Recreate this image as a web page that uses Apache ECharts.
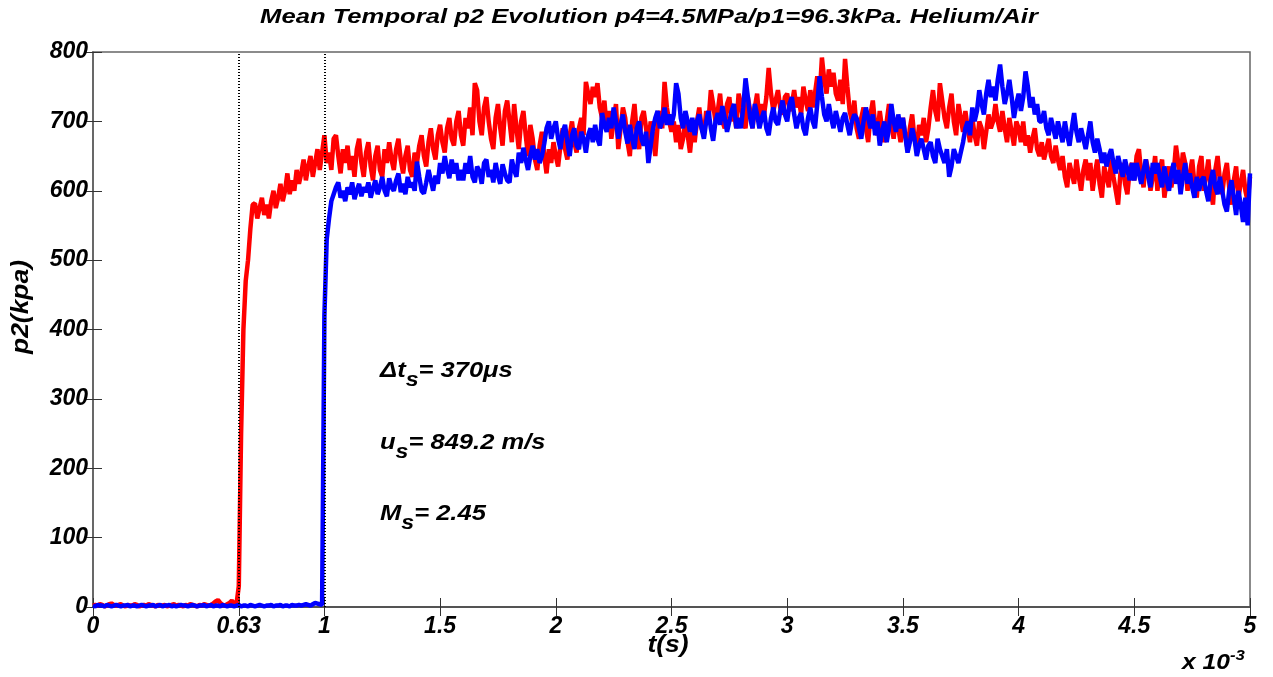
<!DOCTYPE html>
<html>
<head>
<meta charset="utf-8">
<script src="https://cdn.jsdelivr.net/npm/echarts@6/dist/echarts.min.js"></script>
<style>
html,body{margin:0;padding:0;background:#fff;}
#c{width:1273px;height:677px;}
</style>
</head>
<body>
<div id="c"></div>
<script>
// Sampling step of the traces (in ms, shown as x 10^-3 s)
const stepMs = 0.01;
// x-axis tick labels (ms)
const xTicks = [0, 0.63, 1, 1.5, 2, 2.5, 3, 3.5, 4, 4.5, 5];
// shock arrival markers (ms)
const markers = [0.63, 1];
// Red trace p2 (kPa), one value per step from t = 0
const redP2 = [
2,3,2,4,3,1,2,4,5,3, 2,3,4,2,1,3,2,2,4,3, 1,2,3,2,4,3,2,1,3,2, 2,3,1,2,3,4,2,3,2,1,
3,2,4,3,2,1,3,2,4,3, 2,3,5,8,10,6,3,2,4,6,
9,5,4,30,250,400,470,500,545,580,
582,560,575,590,565,580,560,585,600,575, 590,610,585,600,625,595,615,600,630,610,
625,645,615,635,650,620,640,660,630,655, 680,640,655,630,675,680,650,625,660,640,
665,630,650,620,660,675,640,620,655,670, 635,615,650,665,630,620,660,640,670,645,
630,660,675,645,625,650,665,630,620,655, 640,665,680,650,635,670,690,660,645,680,
695,670,655,690,705,675,665,700,715,680, 665,705,690,720,680,755,745,700,680,720,
735,700,675,660,705,725,690,665,715,730, 700,670,725,690,660,700,715,680,650,695,
675,645,630,665,685,650,625,660,640,670, 650,635,665,690,660,645,680,700,670,655,
690,705,680,757,740,725,750,735,755,720, 705,730,690,715,675,700,725,660,690,720,
705,670,650,700,725,680,660,705,715,690, 665,700,680,650,695,715,690,757,720,700,
685,700,670,695,660,675,700,680,655,690, 670,700,720,690,680,715,700,745,725,700,
715,740,700,690,725,735,700,715,690,740, 725,700,690,735,715,690,720,740,700,725,
710,735,777,740,715,730,745,720,710,735, 740,715,725,745,720,735,710,750,730,715,
745,720,740,765,735,792,760,740,775,750, 770,740,730,760,725,790,750,715,700,730,
690,675,705,720,690,670,710,730,695,680, 715,690,670,700,725,695,675,705,690,670,
705,680,660,690,710,675,660,695,680,705, 670,690,720,745,715,700,755,730,705,690,
720,740,700,680,725,705,685,715,690,670, 705,680,665,700,690,660,685,710,690,700,
725,700,685,715,690,670,705,685,665,700, 690,670,700,665,680,655,675,690,660,650,
670,645,660,675,650,640,665,645,630,650, 620,605,640,625,610,645,620,600,630,645,
615,640,600,625,645,610,590,635,620,605, 645,620,600,580,625,640,610,595,630,640,
615,650,660,625,605,645,630,600,620,650, 600,630,645,590,615,635,605,625,665,640,
620,655,640,600,625,645,610,590,635,650, 600,620,645,605,580,630,650,615,595,625,
640,605,580,615,635,590,610,630,600,585, 620
];
// Blue trace p2 (kPa), one value per step from t = 0
const blueP2 = [
2,1,3,2,2,1,3,2,1,2, 3,2,1,2,2,3,1,2,2,1, 2,3,2,1,2,2,3,1,2,3, 1,2,2,3,1,2,1,2,3,2,
2,1,2,3,2,1,2,2,3,1, 2,3,1,2,2,1,3,2,1,2, 2,1,2,3,1,2,2,1,3,2, 1,2,3,2,1,2,2,3,1,2,
2,3,1,2,2,1,3,2,2,3, 2,3,4,3,2,4,6,5,4,3,
420,530,560,585,595,605,612,590,600,585, 605,595,612,588,600,610,592,605,598,612,
590,603,615,595,605,620,600,592,618,605, 600,615,625,598,610,595,620,605,612,600,
642,620,600,596,612,630,615,600,622,610, 640,625,650,632,618,645,625,640,615,630,
615,640,625,650,620,612,635,628,610,640, 645,620,630,612,640,622,610,638,625,615,
612,645,630,620,655,640,662,645,630,650, 665,645,660,640,650,668,690,700,675,690,
700,675,660,685,695,670,650,680,690,665, 660,685,675,655,680,690,670,695,675,665,
712,695,685,705,690,720,700,675,695,710, 685,668,695,675,660,690,700,675,665,685,
640,665,690,705,715,690,700,720,695,710, 695,710,755,740,705,690,715,700,685,705,
680,700,710,690,675,700,715,690,672,700, 712,695,722,705,685,700,715,725,690,705,
690,720,762,735,705,690,725,710,690,705, 715,690,680,705,720,700,695,715,730,710,
700,725,735,710,690,705,712,690,680,705, 720,700,690,725,765,735,710,700,725,705,
690,715,700,685,705,712,695,680,700,710, 705,690,675,700,720,705,690,710,680,700,
665,685,700,670,690,725,700,685,710,690, 705,680,655,670,690,675,650,665,675,660,
645,665,670,650,640,675,660,650,640,660, 620,635,660,650,640,655,670,690,700,680,
720,700,715,745,725,710,740,760,735,750, 730,760,782,750,725,740,760,735,705,725,
740,715,735,772,750,720,735,710,725,700, 700,715,690,680,705,690,675,700,685,670,
700,680,665,690,712,685,670,690,675,660, 680,700,670,655,675,660,640,655,635,650,
660,640,625,650,635,620,645,630,615,640, 615,640,625,610,630,645,620,605,640,625,
640,620,605,635,615,600,625,640,610,630, 595,620,640,610,625,605,590,620,600,615,
620,600,585,615,630,605,595,620,600,580, 570,600,615,590,565,600,580,555,590,550,
625
];
// Annotation texts
const annoDt = '370μs';
const annoUs = '849.2 m/s';
const annoMs = '2.45';
const titleText = 'Mean Temporal p2 Evolution p4=4.5MPa/p1=96.3kPa. Helium/Air';

const FONT = '"Liberation Sans", Arial, sans-serif';
const toPairs = arr => arr.map((v, i) => [+(i * stepMs).toFixed(2), v]);
const fmtX = v => String(Math.round(v * 100) / 100);

const chart = echarts.init(document.getElementById('c'), null, {renderer: 'canvas'});
const lblStyle = {fontFamily: FONT, fontWeight: 'bold', fontStyle: 'italic', fontSize: 23, color: '#000'};
const bi = (size, extra) => Object.assign({fontFamily: FONT, fontWeight: 'bold', fontStyle: 'italic', fontSize: size, color: '#000'}, extra || {});
const subRich = {
  b: bi(22),
  s: bi(20, {padding: [19, 0, 0, 0]})
};

chart.setOption({
  animation: false,
  backgroundColor: '#fff',
  grid: {left: 93, top: 52, right: 23, bottom: 70, show: true, borderColor: '#666', borderWidth: 1.5},
  xAxis: [{
    type: 'value', min: 0, max: 5,
    axisLine: {show: true, lineStyle: {color: '#000', width: 1.5}},
    axisTick: {show: true, inside: true, length: 9, customValues: xTicks, lineStyle: {color: '#333', width: 1}},
    axisLabel: Object.assign({margin: 8, customValues: xTicks, formatter: fmtX}, lblStyle),
    splitLine: {show: false}
  }, {
    type: 'value', min: 0, max: 5, position: 'top',
    axisLine: {show: true, lineStyle: {color: '#666', width: 1.5}},
    axisTick: {show: true, inside: true, length: 9, customValues: xTicks, lineStyle: {color: '#333', width: 1}},
    axisLabel: {show: false}, splitLine: {show: false}
  }],
  yAxis: [{
    type: 'value', min: 0, max: 800, interval: 100,
    axisLine: {show: true, lineStyle: {color: '#666', width: 1.5}},
    axisTick: {show: true, inside: true, length: 9, lineStyle: {color: '#333', width: 1}},
    axisLabel: Object.assign({margin: 5}, lblStyle),
    splitLine: {show: false}
  }, {
    type: 'value', min: 0, max: 800, interval: 100, position: 'right',
    axisLine: {show: true, lineStyle: {color: '#666', width: 1.5}},
    axisTick: {show: true, inside: true, length: 9, lineStyle: {color: '#333', width: 1}},
    axisLabel: {show: false}, splitLine: {show: false}
  }],
  series: [{
    name: 'red', type: 'line', data: toPairs(redP2), showSymbol: false, symbol: 'none',
    lineStyle: {color: '#ff0000', width: 4.5}, z: 2,
    markLine: {
      silent: true, symbol: 'none', label: {show: false},
      lineStyle: {color: '#000', width: 2, type: [1, 2]},
      data: markers.map(m => ({xAxis: m}))
    }
  }, {
    name: 'blue', type: 'line', data: toPairs(blueP2), showSymbol: false, symbol: 'none',
    lineStyle: {color: '#0000ff', width: 4.5}, z: 3
  }],
  graphic: [
    {type: 'text', x: 649, y: 7, scaleX: 1.22,
      style: Object.assign({text: titleText, align: 'center'}, bi(21))},
    {type: 'text', x: 22, y: 307, rotation: Math.PI / 2, scaleX: 1.15,
      style: Object.assign({text: 'p2(kpa)', align: 'center', verticalAlign: 'middle'}, bi(23))},
    {type: 'text', x: 668, y: 646, scaleX: 1.15,
      style: Object.assign({text: 't(s)', align: 'center', verticalAlign: 'middle'}, bi(23))},
    {type: 'text', x: 380, y: 351, scaleX: 1.16, style: {text: '{b|Δt}{s|s}{b|= ' + annoDt + '}', rich: subRich}},
    {type: 'text', x: 380, y: 423, scaleX: 1.16, style: {text: '{b|u}{s|s}{b|= ' + annoUs + '}', rich: subRich}},
    {type: 'text', x: 380, y: 494, scaleX: 1.16, style: {text: '{b|M}{s|s}{b|= ' + annoMs + '}', rich: subRich}},
    {type: 'text', x: 1182, y: 648, scaleX: 1.12, style: {text: '{b|x 10}{e|-3}', rich: {
      b: bi(22),
      e: bi(15, {padding: [0, 0, 15, 0]})
    }}}
  ]
});
</script>
</body>
</html>
